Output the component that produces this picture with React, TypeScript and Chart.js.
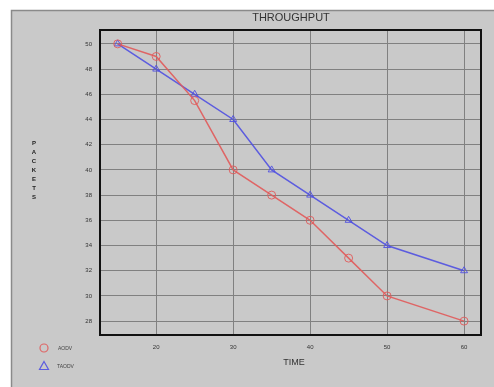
import React, { useEffect, useRef } from "react";
import { Chart, registerables } from "chart.js";

Chart.register(...registerables);

const times = [15, 20, 25, 30, 35, 40, 45, 50, 60];
const aodv = [50, 49, 45.5, 40, 38, 36, 33, 30, 28];
const taodv = [50, 48, 46, 44, 40, 38, 36, 34, 32];
const xTicks = [20, 30, 40, 50, 60];
const yTicks = [28, 30, 32, 34, 36, 38, 40, 42, 44, 46, 48, 50];
const titleText = "THROUGHPUT";
const xLabel = "TIME";
const yLabel = "PACKETS";
const seriesNames = ["AODV", "TAODV"];

const RED = "rgba(225,90,90,0.9)";
const BLUE = "rgba(80,80,225,0.9)";
const FONT = "'Liberation Sans', Arial, sans-serif";

export default function App() {
  const ref = useRef<HTMLCanvasElement>(null);
  useEffect(() => {
    const canvas = ref.current!;
    const deco = {
      id: "deco",
      beforeDraw(chart: any) {
        const ctx = chart.ctx;
        ctx.save();
        ctx.fillStyle = "#ffffff";
        ctx.fillRect(0, 0, 494, 387);
        ctx.fillStyle = "#c9c9c9";
        ctx.fillRect(11, 10, 483, 377);
        ctx.strokeStyle = "#8a8a8a";
        ctx.lineWidth = 1.5;
        ctx.beginPath();
        ctx.moveTo(11.5, 387);
        ctx.lineTo(11.5, 10.5);
        ctx.lineTo(494, 10.5);
        ctx.stroke();
        ctx.restore();
      },
      afterDraw(chart: any) {
        const ctx = chart.ctx;
        const a = chart.chartArea;
        ctx.save();
        ctx.strokeStyle = "#111";
        ctx.lineWidth = 2;
        ctx.strokeRect(a.left, a.top, a.right - a.left, a.bottom - a.top);
        ctx.fillStyle = "#333";
        ctx.textAlign = "center";
        ctx.textBaseline = "middle";
        ctx.font = `11px ${FONT}`;
        ctx.fillText(titleText, 291, 18);
        ctx.font = `9px ${FONT}`;
        ctx.fillText(xLabel, 294, 363);
        ctx.fillStyle = "#222";
        ctx.font = `bold 6px ${FONT}`;
        yLabel.split("").forEach((c, i) => ctx.fillText(c, 34, 143 + i * 9));
        // legend
        ctx.lineWidth = 1.2;
        ctx.strokeStyle = RED;
        ctx.beginPath();
        ctx.arc(44, 348, 4, 0, Math.PI * 2);
        ctx.stroke();
        ctx.strokeStyle = BLUE;
        ctx.beginPath();
        ctx.moveTo(44, 361.5);
        ctx.lineTo(48.5, 369.5);
        ctx.lineTo(39.5, 369.5);
        ctx.closePath();
        ctx.stroke();
        ctx.fillStyle = "#444";
        ctx.textAlign = "left";
        ctx.font = `5px ${FONT}`;
        ctx.fillText(seriesNames[0], 58, 349);
        ctx.fillText(seriesNames[1], 57, 367);
        ctx.restore();
      },
    };
    const chart = new Chart(canvas, {
      type: "line",
      data: {
        datasets: [
          {
            label: seriesNames[0],
            data: times.map((t, i) => ({ x: t, y: aodv[i] })),
            borderColor: RED,
            backgroundColor: "transparent",
            borderWidth: 1.5,
            pointStyle: "circle",
            pointRadius: 4,
            pointBorderWidth: 1,
            pointBorderColor: RED,
            pointBackgroundColor: "transparent",
            tension: 0,
          },
          {
            label: seriesNames[1],
            data: times.map((t, i) => ({ x: t, y: taodv[i] })),
            borderColor: BLUE,
            backgroundColor: "transparent",
            borderWidth: 1.5,
            pointStyle: "triangle",
            pointRadius: 4,
            pointBorderWidth: 1,
            pointBorderColor: BLUE,
            pointBackgroundColor: "transparent",
            tension: 0,
          },
        ],
      },
      options: {
        responsive: false,
        animation: false,
        layout: { padding: { top: 30, right: 13, left: 0, bottom: 0 } },
        plugins: { legend: { display: false }, title: { display: false }, tooltip: { enabled: false } },
        scales: {
          x: {
            type: "linear",
            min: 12.7,
            max: 62.2,
            afterBuildTicks: (s: any) => {
              s.ticks = xTicks.map((v) => ({ value: v }));
            },
            afterFit: (s: any) => {
              s.height = 52;
            },
            grid: { color: "#808080", lineWidth: 1, drawTicks: false },
            border: { display: false },
            ticks: { color: "#333", font: { size: 6, family: FONT }, padding: 9, maxRotation: 0 },
          },
          y: {
            type: "linear",
            min: 26.9,
            max: 51.1,
            afterBuildTicks: (s: any) => {
              s.ticks = yTicks.map((v) => ({ value: v }));
            },
            afterFit: (s: any) => {
              s.width = 100;
            },
            grid: { color: "#808080", lineWidth: 1, drawTicks: false },
            border: { display: false },
            ticks: { color: "#333", font: { size: 6, family: FONT }, padding: 8 },
          },
        },
      },
      plugins: [deco],
    });
    return () => chart.destroy();
  }, []);
  return (
    <div style={{ position: "absolute", left: 0, top: 0, width: 494, height: 387 }}>
      <canvas ref={ref} width={494} height={387} style={{ width: 494, height: 387, display: "block" }} />
    </div>
  );
}
